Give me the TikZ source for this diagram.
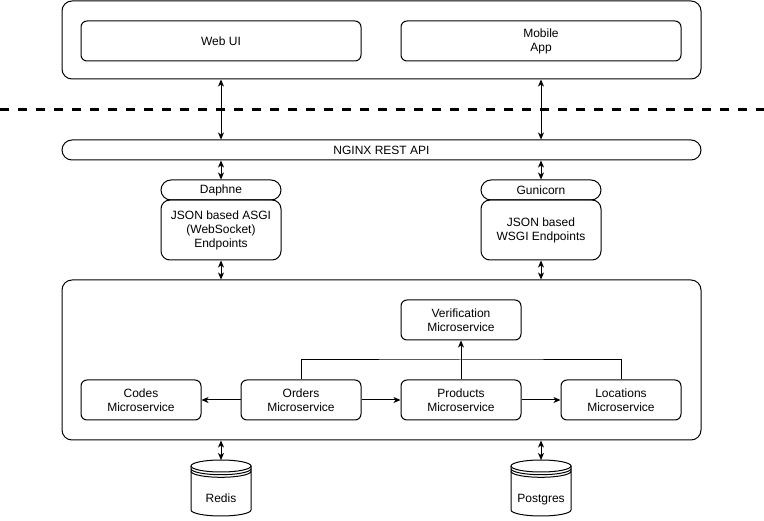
\documentclass[tikz,border=0pt]{standalone}
\usepackage{fontspec}
\setmainfont{Liberation Sans}
\usetikzlibrary{arrows.meta}
\begin{document}
\begin{tikzpicture}[x=1pt,y=-1pt,
  every node/.style={font=\fontsize{12}{14}\selectfont},
  box/.style={draw, line width=1pt, rounded corners=6pt, inner sep=0pt, align=center, minimum width=120pt, minimum height=40pt},
  container/.style={draw, line width=1pt, rounded corners=10pt, inner sep=0pt},
  pill/.style={draw, line width=1pt, rounded corners=10pt, inner sep=0pt, minimum height=20pt},
  arr/.style={line width=1pt, -{Stealth[length=7pt,width=6pt,inset=2pt]}},
  dbl/.style={line width=1pt, {Stealth[length=7pt,width=6pt,inset=2pt]}-{Stealth[length=7pt,width=6pt,inset=2pt]}},
  sep/.style={line width=3pt, dash pattern=on 9pt off 9pt},
  lbl/.style={inner sep=0pt, text height=9pt, text depth=2.5pt}
]
\useasboundingbox (0,0) rectangle (764,521);

% top container
\node[container, minimum width=639pt, minimum height=78pt] (top) at (381.5,40) {};
\node[box, minimum width=280pt] (web) at (221,41) {Web UI};
\node[box, minimum width=280pt] (mobile) at (541,41) {Mobile\\App};

% separator
\coordinate (dl) at (0,110);
\coordinate (dr) at (764,110);
\draw[sep] (dl) -- (dr);

% nginx
\node[pill, minimum width=639pt] (nginx) at (381.5,150) {NGINX REST API};

% servers
\node[pill, minimum width=120pt] (daphne) at (221,190) {Daphne};
\node[box, minimum height=60pt, rounded corners=9pt] (asgi) at (221,230) {JSON based ASGI\\(WebSocket)\\Endpoints};
\node[pill, minimum width=120pt] (gunicorn) at (541,190) {Gunicorn};
\node[box, minimum height=60pt, rounded corners=9pt] (wsgi) at (541,230) {JSON based\\WSGI Endpoints};

% big container
\node[container, minimum width=639pt, minimum height=160pt] (big) at (381.5,360) {};
\node[box] (verif) at (461,320) {Verification\\Microservice};
\node[box] (codes) at (141,400) {Codes\\Microservice};
\node[box] (orders) at (301,400) {Orders\\Microservice};
\node[box] (products) at (461,400) {Products\\Microservice};
\node[box] (locations) at (621,400) {Locations\\Microservice};

% connectors in big container
\draw[arr] (orders.west) -- (codes.east);
\draw[arr] (orders.east) -- (products.west);
\draw[arr] (products.east) -- (locations.west);
\coordinate (junc) at (461,360);
\draw[line width=1pt] (orders.north) |- (junc) -| (locations.north);
\draw[arr] (products.north) -- (verif.south);

% vertical connectors
\draw[dbl] (web |- top.south) -- (web |- nginx.north);
\draw[dbl] (mobile |- top.south) -- (mobile |- nginx.north);
\draw[dbl] (daphne |- nginx.south) -- (daphne.north);
\draw[dbl] (gunicorn |- nginx.south) -- (gunicorn.north);
\draw[dbl] (asgi.south) -- (asgi |- big.north);
\draw[dbl] (wsgi.south) -- (wsgi |- big.north);

% datastores
\foreach \nm/\cx/\txt in {redis/221/Redis, postgres/541/Postgres}{
  \begin{scope}[shift={(\cx,0)}]
    \draw[line width=1pt, fill=white] (-30,466) -- (-30,510)
      arc[start angle=180, end angle=0, x radius=30, y radius=6] -- (30,466);
    \draw[line width=1pt] (0,466) ellipse [x radius=30, y radius=6];
    \draw[line width=1pt] (-30,468.7) arc[start angle=180, end angle=0, x radius=30, y radius=6];
    \draw[line width=1pt] (-30,471.3) arc[start angle=180, end angle=0, x radius=30, y radius=6];
  \end{scope}
  \coordinate (\nm top) at (\cx,460);
  \node[lbl] (\nm) at (\cx,499) {\txt};
}
\draw[dbl] (redistop |- big.south) -- (redistop);
\draw[dbl] (postgrestop |- big.south) -- (postgrestop);
\end{tikzpicture}
\end{document}
